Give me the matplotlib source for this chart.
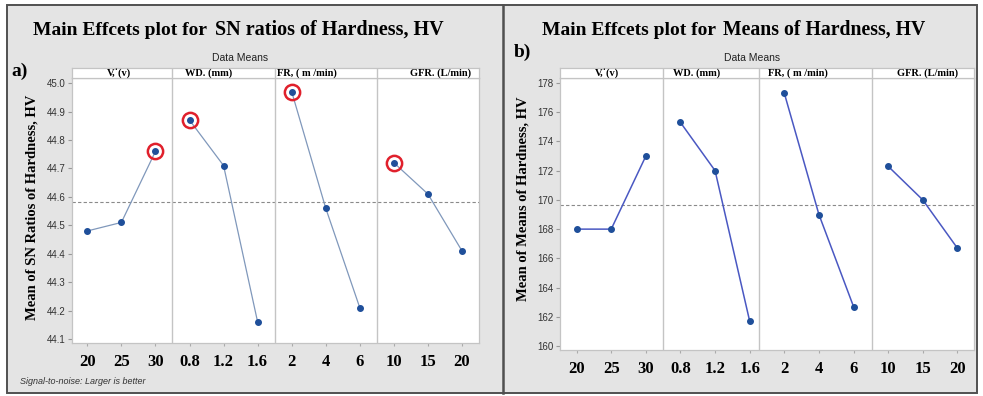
import numpy as np
import matplotlib
matplotlib.use("Agg")
import matplotlib.pyplot as plt
from matplotlib.patches import Rectangle
from matplotlib.lines import Line2D

W, H = 983, 396

# factor levels, shared by both plots
factors = ["V,\u02d9(v)", "WD. (mm)", "FR, ( m /min)", "GFR. (L/min)"]
level_labels = ["20", "25", "30", "0.8", "1.2", "1.6", "2", "4", "6", "10", "15", "20"]

# mean S/N ratio per level
sn_v = [44.48, 44.51, 44.76]
sn_wd = [44.87, 44.71, 44.16]
sn_fr = [44.97, 44.56, 44.21]
sn_gfr = [44.72, 44.61, 44.41]

# mean hardness per level
mean_v = [168.0, 168.0, 173.0]
mean_wd = [175.3, 172.0, 161.7]
mean_fr = [177.3, 169.0, 162.7]
mean_gfr = [172.3, 170.0, 166.7]

sn_ticks = [44.1, 44.2, 44.3, 44.4, 44.5, 44.6, 44.7, 44.8, 44.9, 45.0]
mean_ticks = [160, 162, 164, 166, 168, 170, 172, 174, 176, 178]

SERIF = "Liberation Serif"
SANS = "Liberation Sans"


def fx(x):
    return x / W


def fy(y):
    return 1 - y / H


def add_axes_px(fig, x0, y0, x1, y1):
    return fig.add_axes([fx(x0), fy(y1), (x1 - x0) / W, (y1 - y0) / H])


def draw_main_effects(fig, box, groups, ylim, yticks, yfmt, xlim, dividers,
                      line_color, line_width, strip_pos, mark_best=False):
    x0, y0, x1, y1 = box
    ax = add_axes_px(fig, x0, y0, x1, y1)
    ax.set_facecolor("white")
    for s in ax.spines.values():
        s.set_color("#c4c4c4")
        s.set_linewidth(0.9)

    grand = np.mean(np.concatenate([np.asarray(g) for g in groups]))
    ax.axhline(grand, color="#8a8a8a", lw=0.8, ls=(0, (3, 2)), zorder=1)

    for d in dividers:
        ax.axvline(d, color="#c4c4c4", lw=1, zorder=1)

    for i, vals in enumerate(groups):
        xs = np.arange(3) + 3 * i
        ax.plot(xs, vals, color=line_color, lw=line_width, marker="o", ms=4,
                mfc="#1f4f9a", mec="#1f4f9a", zorder=3)
        if mark_best:
            b = int(np.argmax(vals))
            ax.plot(xs[b], vals[b], "o", ms=11, mfc="none", mec="#e0202c",
                    mew=1.8, zorder=4)

    ax.set_xlim(*xlim)
    ax.set_ylim(*ylim)
    ax.set_xticks(range(len(level_labels)))
    ax.set_xticklabels(level_labels, fontfamily=SERIF, fontweight="bold", fontsize=12)
    ax.tick_params(axis="x", length=2.5, color="#aaaaaa", pad=5.5)
    ax.set_yticks(yticks)
    ax.set_yticklabels([yfmt.format(t) for t in yticks], fontfamily=SANS)
    ax.tick_params(axis="y", length=3, color="#999999", labelsize=7,
                   labelcolor="#333333", pad=1.5)

    # header strip with factor names
    st = add_axes_px(fig, x0, y0 - 10, x1, y0)
    st.set_facecolor("white")
    st.set_xlim(*xlim)
    st.set_ylim(0, 1)
    st.set_xticks([])
    st.set_yticks([])
    for s in st.spines.values():
        s.set_color("#c4c4c4")
        s.set_linewidth(0.9)
    for d in dividers:
        st.axvline(d, color="#c4c4c4", lw=1)
    for name, xp in zip(factors, strip_pos):
        fig.text(fx(xp), fy(y0 - 5), name, ha="center", va="center",
                 fontfamily=SERIF, fontweight="bold", fontsize=7.5)
    return ax


fig = plt.figure(figsize=(W / 100, H / 100), dpi=100)
fig.patch.set_facecolor("white")

# grey frame behind everything, and the divider between the two plots
fig.add_artist(Rectangle((fx(7), fy(393)), (977 - 7) / W, (393 - 5) / H,
                         transform=fig.transFigure, facecolor="#e4e4e4",
                         edgecolor="#505050", lw=1.4, zorder=-10))
fig.add_artist(Line2D([fx(503), fx(503)], [fy(5), fy(393)],
                      transform=fig.transFigure, color="#505050", lw=1.8))

# a) S/N ratios
draw_main_effects(fig, (72, 78, 479, 343), [sn_v, sn_wd, sn_fr, sn_gfr],
                  ylim=(44.086, 45.018), yticks=sn_ticks, yfmt="{:.1f}",
                  xlim=(-0.45, 11.5), dividers=[2.5, 5.5, 8.5],
                  line_color="#8098bb", line_width=0.9,
                  strip_pos=[119, 209, 307, 441], mark_best=True)

fig.text(fx(33), fy(35), "Main Effcets plot for", fontfamily=SERIF,
         fontweight="bold", fontsize=14, va="baseline")
fig.text(fx(215), fy(35), "SN ratios of Hardness, HV", fontfamily=SERIF,
         fontweight="bold", fontsize=14.5, va="baseline")
fig.text(fx(240), fy(58), "Data Means", fontfamily=SANS, fontsize=7.5,
         ha="center", va="center", color="#222222")
fig.text(fx(11), fy(71), "a)", fontfamily=SERIF, fontweight="bold",
         fontsize=14, va="center")
fig.text(fx(32), fy(207), "Mean of SN Ratios of Hardness, HV", rotation=90,
         fontfamily=SERIF, fontweight="bold", fontsize=10.5,
         ha="center", va="center")
fig.text(fx(20), fy(382), "Signal-to-noise: Larger is better", fontfamily=SANS,
         fontstyle="italic", fontsize=6.5, va="center", color="#333333")

# b) means
draw_main_effects(fig, (560, 78, 974, 350), [mean_v, mean_wd, mean_fr, mean_gfr],
                  ylim=(159.73, 178.34), yticks=mean_ticks, yfmt="{:d}",
                  xlim=(-0.48, 11.48), dividers=[2.49, 5.27, 8.53],
                  line_color="#4a58c2", line_width=1.1,
                  strip_pos=[607, 697, 798, 928])

fig.text(fx(542), fy(35), "Main Effcets plot for", fontfamily=SERIF,
         fontweight="bold", fontsize=14, va="baseline")
fig.text(fx(723), fy(35), "Means of Hardness, HV", fontfamily=SERIF,
         fontweight="bold", fontsize=14.2, va="baseline")
fig.text(fx(752), fy(58), "Data Means", fontfamily=SANS, fontsize=7.5,
         ha="center", va="center", color="#222222")
fig.text(fx(514), fy(52), "b)", fontfamily=SERIF, fontweight="bold",
         fontsize=14, va="center")
fig.text(fx(523), fy(199), "Mean of Means of Hardness, HV", rotation=90,
         fontfamily=SERIF, fontweight="bold", fontsize=10.5,
         ha="center", va="center")

fig.savefig("out.png", dpi=100, facecolor=fig.get_facecolor())
